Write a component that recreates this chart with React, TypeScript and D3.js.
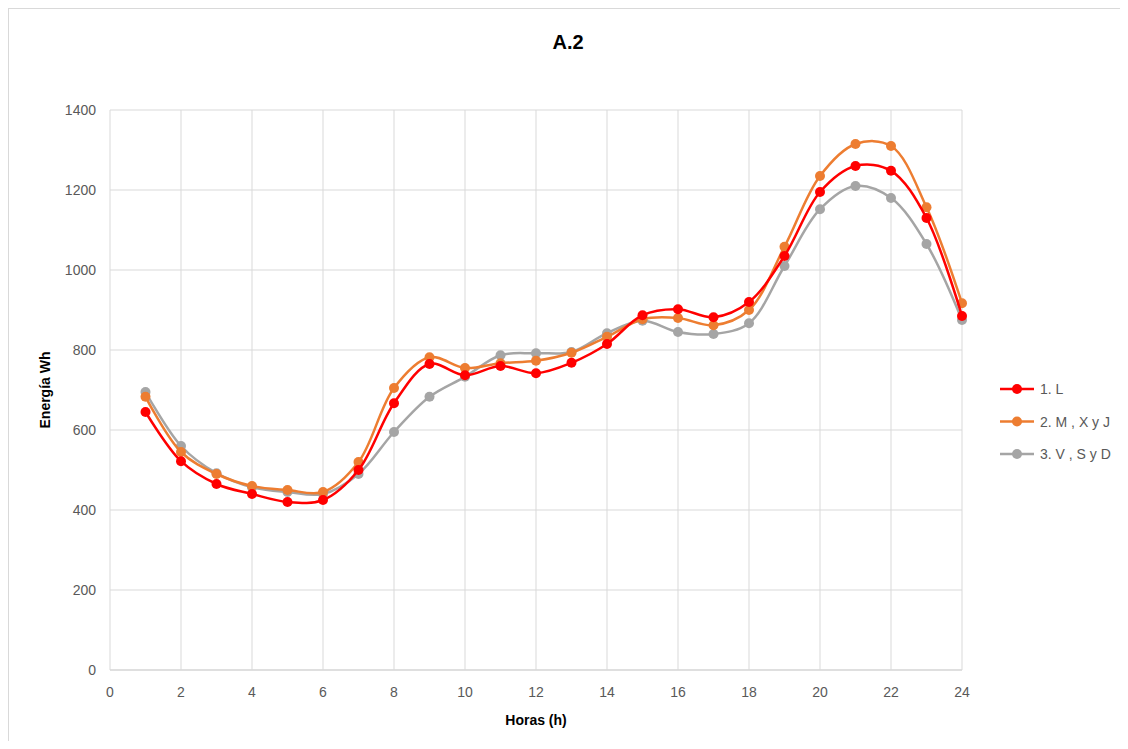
import React from "react";
import * as d3 from "d3";

const hours = [1,2,3,4,5,6,7,8,9,10,11,12,13,14,15,16,17,18,19,20,21,22,23,24];
const serieL = [645,522,465,440,420,425,500,667,765,737,760,742,768,815,887,902,882,920,1035,1195,1260,1248,1130,885];
const serieMXJ = [683,545,490,460,450,445,520,705,782,755,767,773,793,833,877,880,862,900,1058,1235,1315,1310,1157,917];
const serieVSD = [695,560,492,457,445,440,490,595,683,733,787,792,795,842,873,845,840,867,1010,1152,1210,1180,1065,875];
const seriesNames = ["1. L", "2. M , X y J", "3. V , S y D"];
const seriesColors = ["#FF0000", "#ED7D31", "#A5A5A5"];
const xTicks = [0,2,4,6,8,10,12,14,16,18,20,22,24];
const yTicks = [0,200,400,600,800,1000,1200,1400];

const W = 1120, H = 733;
const font = "'Liberation Sans', Arial, sans-serif";

export default function App() {
  const x = d3.scaleLinear().domain([0, 24]).range([102, 954]);
  const y = d3.scaleLinear().domain([0, 1400]).range([662, 102]);
  const data = [serieL, serieMXJ, serieVSD];
  const line = d3.line<number>()
    .x((_, i) => x(hours[i]))
    .y((d) => y(d))
    .curve(d3.curveCatmullRom.alpha(0.5));
  const order = [2, 1, 0];
  return (
    <svg width={W} height={H} style={{ display: "block", overflow: "hidden" }}>
      <rect x={0.5} y={0.5} width={W + 40} height={H + 40} fill="#fff" stroke="#d9d9d9" />
      <text x={560} y={41} textAnchor="middle" fontFamily={font} fontWeight="bold" fontSize={20} fill="#000">A.2</text>
      {yTicks.map((t) => (
        <g key={"y" + t}>
          <line x1={x(0)} x2={x(24)} y1={y(t)} y2={y(t)} stroke={t === 0 ? "#bfbfbf" : "#d9d9d9"} strokeWidth={1} />
          <text x={88} y={y(t) + 5} textAnchor="end" fontFamily={font} fontSize={14} fill="#595959">{t}</text>
        </g>
      ))}
      {xTicks.map((t) => (
        <g key={"x" + t}>
          <line x1={x(t)} x2={x(t)} y1={y(0)} y2={y(1400)} stroke="#d9d9d9" strokeWidth={1} />
          <text x={x(t)} y={689} textAnchor="middle" fontFamily={font} fontSize={14} fill="#595959">{t}</text>
        </g>
      ))}
      <text x={528} y={717} textAnchor="middle" fontFamily={font} fontWeight="bold" fontSize={14} fill="#000">Horas (h)</text>
      <text transform={`translate(42,${(y(0) + y(1400)) / 2}) rotate(-90)`} textAnchor="middle" fontFamily={font} fontWeight="bold" fontSize={14} fill="#000">Energía Wh</text>
      {order.map((si) => (
        <g key={"s" + si}>
          <path d={line(data[si]) || ""} fill="none" stroke={seriesColors[si]} strokeWidth={2.5} />
          {data[si].map((v, i) => (
            <circle key={i} cx={x(hours[i])} cy={y(v)} r={5} fill={seriesColors[si]} />
          ))}
        </g>
      ))}
      {seriesNames.map((n, i) => (
        <g key={"l" + i} transform={`translate(0,${381 + i * 32.5})`}>
          <line x1={992} x2={1026} y1={0} y2={0} stroke={seriesColors[i]} strokeWidth={2.5} />
          <circle cx={1009} cy={0} r={5} fill={seriesColors[i]} />
          <text x={1032} y={5} fontFamily={font} fontSize={14} fill="#595959">{n}</text>
        </g>
      ))}
    </svg>
  );
}
